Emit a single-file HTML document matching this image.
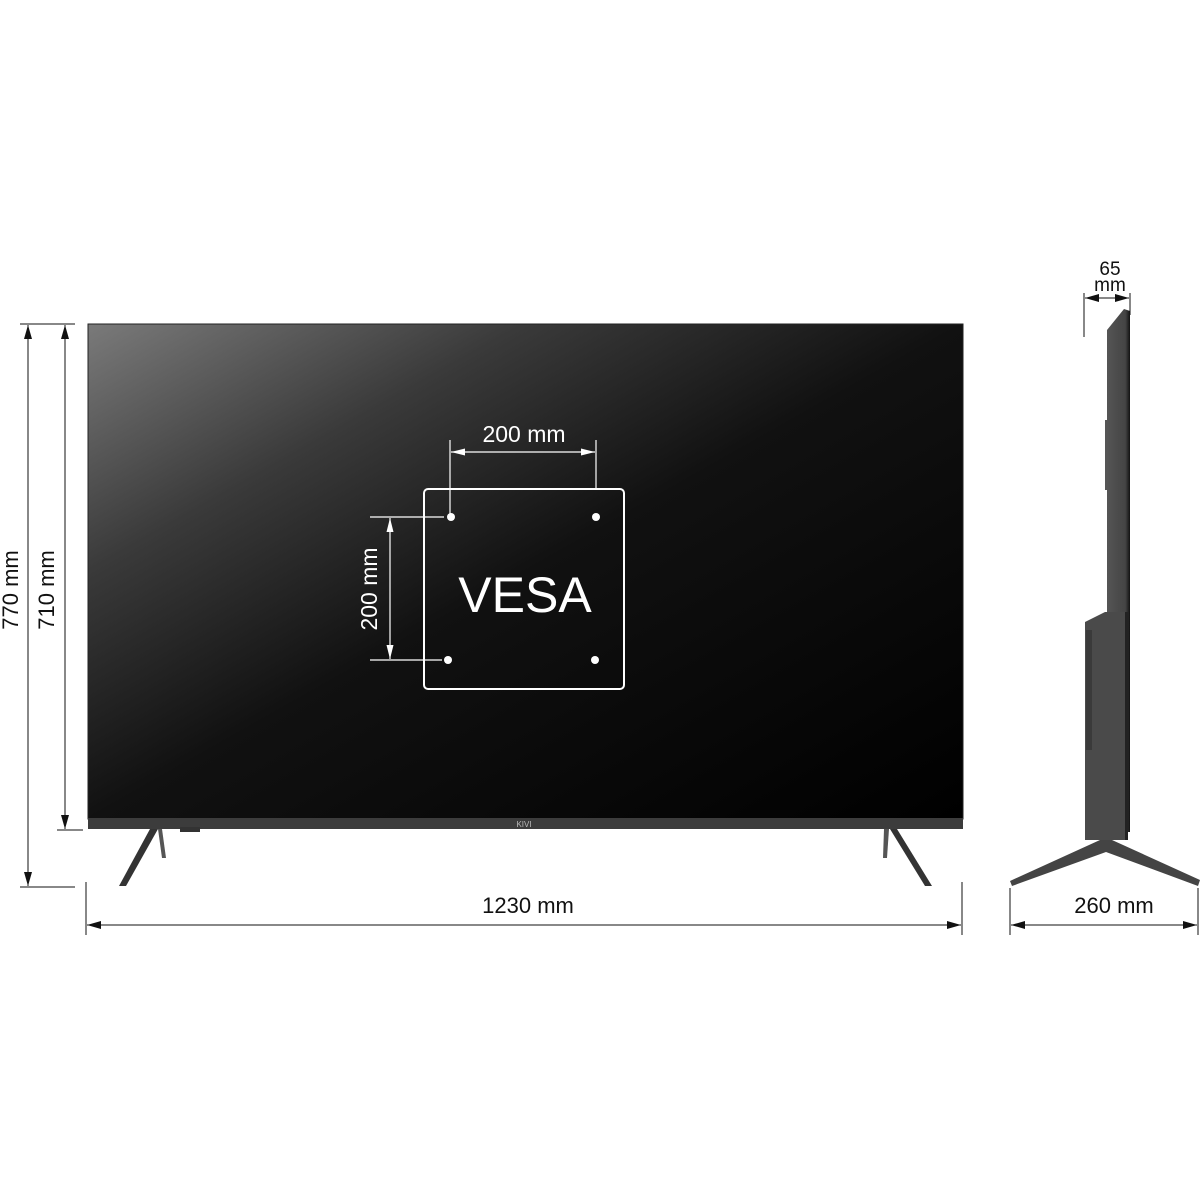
<!DOCTYPE html>
<html><head><meta charset="utf-8"><style>
html,body{margin:0;padding:0;background:#fff;width:1200px;height:1200px;overflow:hidden}
svg{display:block}
text{font-family:"Liberation Sans",sans-serif}
</style></head><body>
<svg width="1200" height="1200" viewBox="0 0 1200 1200" xmlns="http://www.w3.org/2000/svg">
<defs>
<linearGradient id="scr" x1="0" y1="0" x2="1" y2="1" gradientUnits="objectBoundingBox">
<stop offset="0" stop-color="#7a7a7a"/>
<stop offset="0.25" stop-color="#3a3a3a"/>
<stop offset="0.5" stop-color="#111"/>
<stop offset="1" stop-color="#000"/>
</linearGradient>
<marker id="ab" viewBox="0 0 10 10" refX="10" refY="5" markerWidth="14" markerHeight="8" orient="auto-start-reverse" markerUnits="userSpaceOnUse" preserveAspectRatio="none"><path d="M0,0 L10,5 L0,10 Z" fill="#111"/></marker>
<marker id="aw" viewBox="0 0 10 10" refX="10" refY="5" markerWidth="14" markerHeight="7" orient="auto-start-reverse" markerUnits="userSpaceOnUse" preserveAspectRatio="none"><path d="M0,0 L10,5 L0,10 Z" fill="#fff"/></marker>
<linearGradient id="side" x1="0" y1="0" x2="1" y2="0"><stop offset="0" stop-color="#555"/><stop offset="0.8" stop-color="#444"/><stop offset="1" stop-color="#111"/></linearGradient>
</defs>
<!-- legs -->
<polygon points="150,829 158,829 126,886 119,886" fill="#333"/>
<polygon points="158,829 162,829 166,858 162,858" fill="#555"/>
<polygon points="890,829 897,829 932,886 925,886" fill="#333"/>
<polygon points="884,829 889,829 887,858 883,858" fill="#555"/>
<!-- TV -->
<rect x="88" y="324" width="875" height="495" fill="url(#scr)"/>
<rect x="88" y="324" width="875" height="495" fill="none" stroke="#222" stroke-width="1"/>
<rect x="88" y="818" width="875" height="11" fill="#3c3c3c"/>
<rect x="180" y="827" width="20" height="5" fill="#333"/>
<text x="524" y="827" font-size="8" fill="#bbb" text-anchor="middle">KIVI</text>
<!-- VESA -->
<rect x="424" y="489" width="200" height="200" rx="4" fill="none" stroke="#fff" stroke-width="2"/>
<g fill="#fff"><circle cx="451" cy="517" r="4"/><circle cx="596" cy="517" r="4"/><circle cx="448" cy="660" r="4"/><circle cx="595" cy="660" r="4"/></g>
<g stroke="#fff" stroke-width="1.2">
<line x1="450" y1="440" x2="450" y2="516"/><line x1="596" y1="440" x2="596" y2="490"/>
<line x1="451" y1="452" x2="595" y2="452" marker-start="url(#aw)" marker-end="url(#aw)"/>
<line x1="370" y1="517" x2="444" y2="517"/><line x1="370" y1="660" x2="442" y2="660"/>
<line x1="390" y1="518" x2="390" y2="659" marker-start="url(#aw)" marker-end="url(#aw)"/>
</g>
<text x="524" y="442" font-size="23" fill="#fff" text-anchor="middle">200 mm</text>
<text transform="translate(377,589) rotate(-90)" font-size="23" fill="#fff" text-anchor="middle">200 mm</text>
<text x="525" y="612" font-size="50" fill="#fff" text-anchor="middle">VESA</text>
<!-- dims -->
<g stroke="#111" stroke-width="1">
<line x1="20" y1="324" x2="75" y2="324"/><line x1="20" y1="887" x2="75" y2="887"/><line x1="57" y1="830" x2="83" y2="830"/>
<line x1="28" y1="325" x2="28" y2="886" marker-start="url(#ab)" marker-end="url(#ab)"/>
<line x1="65" y1="325" x2="65" y2="829" marker-start="url(#ab)" marker-end="url(#ab)"/>
<line x1="86" y1="882" x2="86" y2="935"/><line x1="962" y1="882" x2="962" y2="935"/>
<line x1="87" y1="925" x2="961" y2="925" marker-start="url(#ab)" marker-end="url(#ab)"/>
<line x1="1084" y1="293" x2="1084" y2="337"/><line x1="1130" y1="293" x2="1130" y2="315"/>
<line x1="1085" y1="298" x2="1129" y2="298" marker-start="url(#ab)" marker-end="url(#ab)"/>
<line x1="1010" y1="888" x2="1010" y2="935"/><line x1="1198" y1="888" x2="1198" y2="935"/>
<line x1="1011" y1="925" x2="1197" y2="925" marker-start="url(#ab)" marker-end="url(#ab)"/>
</g>
<text transform="translate(18,590) rotate(-90)" font-size="22" fill="#111" text-anchor="middle">770 mm</text>
<text transform="translate(54,590) rotate(-90)" font-size="22" fill="#111" text-anchor="middle">710 mm</text>
<text x="528" y="913" font-size="22" fill="#111" text-anchor="middle">1230 mm</text>
<text x="1110" y="275" font-size="19" fill="#111" text-anchor="middle">65</text>
<text x="1110" y="291" font-size="19" fill="#111" text-anchor="middle">mm</text>
<text x="1114" y="913" font-size="22" fill="#111" text-anchor="middle">260 mm</text>
<!-- side view -->
<polygon points="1124,309 1130,311 1130,832 1107,832 1107,330" fill="url(#side)"/>
<rect x="1105" y="420" width="3" height="70" fill="#555"/>
<polygon points="1085,622 1105,612 1128,612 1128,840 1085,840" fill="#4a4a4a"/>
<rect x="1086" y="630" width="6" height="120" fill="#3a3a3a"/>
<rect x="1125" y="612" width="3" height="228" fill="#222"/>
<polygon points="1100,840 1112,840 1200,880 1198,886 1106,852 1012,886 1010,881" fill="#444"/>
</svg>
</body></html>
